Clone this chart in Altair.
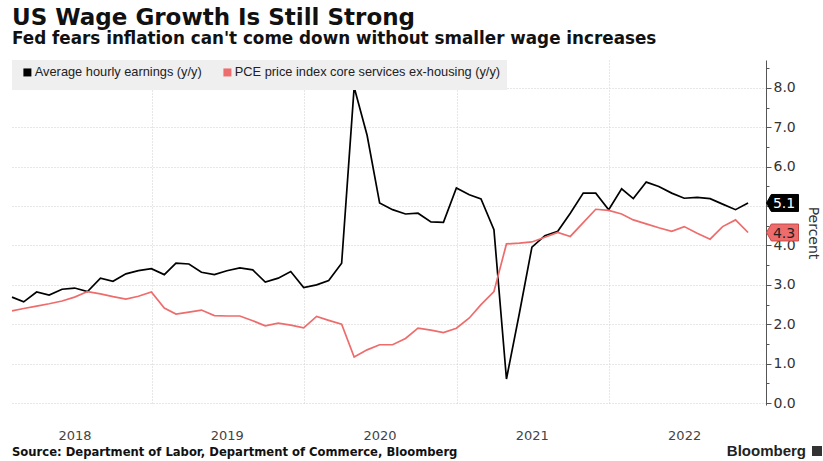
import altair as alt
import pandas as pd

# ---------------- data ----------------
series_names = ["Average hourly earnings (y/y)",
                "PCE price index core services ex-housing (y/y)"]
series_colors = ["#000000", "#ee6c6c"]
box_strokes = ["#000000", "#c84848"]
box_text_colors = ["#ffffff", "#222222"]

ahe = [2.69, 2.57, 2.82, 2.74, 2.89, 2.92, 2.83, 3.17, 3.09, 3.28, 3.36, 3.41,
       3.26, 3.55, 3.53, 3.32, 3.26, 3.36, 3.43, 3.38, 3.07, 3.17, 3.34, 2.93,
       3.00, 3.11, 3.55, 8.02, 6.80, 5.08, 4.91, 4.80, 4.82, 4.60, 4.59, 5.46,
       5.29, 5.18, 4.40, 0.61, 2.28, 3.96, 4.25, 4.36, 4.82, 5.33, 5.33, 4.91,
       5.44, 5.19, 5.61, 5.50, 5.33, 5.20, 5.22, 5.19, 5.05, 4.91, 5.08]
pce = [2.34, 2.40, 2.46, 2.52, 2.59, 2.69, 2.83, 2.77, 2.70, 2.64, 2.71, 2.82,
       2.41, 2.26, 2.31, 2.36, 2.22, 2.21, 2.21, 2.09, 1.96, 2.03, 1.98, 1.91,
       2.20, 2.10, 2.00, 1.17, 1.35, 1.48, 1.48, 1.64, 1.90, 1.85, 1.79, 1.90,
       2.16, 2.50, 2.83, 4.04, 4.06, 4.09, 4.21, 4.33, 4.23, 4.58, 4.92, 4.89,
       4.80, 4.65, 4.55, 4.45, 4.36, 4.48, 4.31, 4.16, 4.48, 4.65, 4.33]

first_month = "2018-02-01"   # monthly data, plotted at month end (Jan 2018 .. Nov 2022)
year_labels = ["2018", "2019", "2020", "2021", "2022"]
grid_years = [2019, 2020, 2021, 2022]
y_ticks = [0, 0.5, 1, 1.5, 2, 2.5, 3, 3.5, 4, 4.5, 5, 5.5, 6, 6.5, 7, 7.5, 8, 8.5]

title_text = "US Wage Growth Is Still Strong"
subtitle_text = "Fed fears inflation can't come down without smaller wage increases"
source_text = "Source: Department of Labor, Department of Commerce, Bloomberg"
brand_text = "Bloomberg"
y_title = "Percent"

# ---------------- tables ----------------
dates = (pd.date_range(first_month, periods=len(ahe), freq="MS")
         - pd.Timedelta(days=1)).strftime("%Y-%m-%dT00:00:00").tolist()
df = pd.DataFrame({
    "date": dates + dates,
    "value": ahe + pce,
    "series": [series_names[0]] * len(ahe) + [series_names[1]] * len(pce),
})
last_df = pd.DataFrame({
    "series": series_names,
    "value": [ahe[-1], pce[-1]],
    "label": [f"{ahe[-1]:.1f}", f"{pce[-1]:.1f}"],
    "tcolor": box_text_colors,
})
years_df = pd.DataFrame({
    "date": [f"{y}-07-01T00:00:00" for y in year_labels],
    "label": year_labels,
})

W, H = 754, 345
FONT = "DejaVu Sans"

xscale = alt.Scale(domain=["2018-01-31T00:00:00", "2023-01-12T00:00:00"])
yscale = alt.Scale(domain=[-0.05, 8.71], nice=False, zero=False)

x_axis = alt.Axis(values=[alt.DateTime(year=y, month=1, date=1) for y in grid_years],
                  labels=False, ticks=False, domain=False, title=None,
                  grid=True, gridColor="#cfcfcf", gridDash=[1, 2], gridWidth=1)
y_axis = alt.Axis(orient="right", values=y_ticks,
                  labelExpr="(datum.value % 1 === 0 && datum.value !== 5) ? format(datum.value, '.1f') : ''",
                  labelFont=FONT, labelFontSize=14, labelColor="#333333", labelPadding=2,
                  domain=True, domainColor="#555555", domainWidth=1,
                  tickColor="#555555", tickWidth=1,
                  tickSize={"condition": {"test": "datum.value % 1 === 0", "value": 5}, "value": 3},
                  grid=True, gridColor="#cfcfcf", gridDash=[1, 2], gridWidth=1,
                  gridOpacity={"condition": {"test": "datum.value % 1 === 0", "value": 1}, "value": 0},
                  title=y_title, titleFont=FONT, titleFontSize=14, titleFontWeight="normal",
                  titleColor="#333333", titlePadding=10)

X = alt.X("date:T", scale=xscale, axis=x_axis)
Y = alt.Y("value:Q", scale=yscale, axis=y_axis)

lines = alt.Chart(df).mark_line(strokeWidth=1.7).encode(
    x=X, y=Y,
    color=alt.Color("series:N", title=None,
                    scale=alt.Scale(domain=series_names, range=series_colors),
                    legend=alt.Legend(orient="top-left", direction="horizontal", offset=0,
                                      padding=6, fillColor="#efefef",
                                      symbolType="square", symbolSize=9, symbolStrokeWidth=5,
                                      symbolOffset=3, labelOffset=1, labelLimit=0,
                                      labelFont="Liberation Sans",
                                      labelFontSize=12.8, labelColor="#222222",
                                      columnPadding=13)),
)

box_shape = "M-1,0L-0.7,-0.53L1,-0.53L1,0.53L-0.7,0.53Z"
boxes = alt.Chart(last_df).mark_point(shape=box_shape, size=1024, filled=True,
                                      opacity=1, strokeWidth=1).encode(
    x=alt.value(W + 16.5), y=Y,
    fill=alt.Fill("series:N", scale=alt.Scale(domain=series_names, range=series_colors), legend=None),
    stroke=alt.Stroke("series:N", scale=alt.Scale(domain=series_names, range=box_strokes), legend=None),
)
box_text = alt.Chart(last_df).mark_text(font=FONT, fontSize=14, align="center",
                                        baseline="middle", dy=1).encode(
    x=alt.value(W + 18), y=Y, text="label:N",
    color=alt.Color("tcolor:N", scale=None),
)

year_text = alt.Chart(years_df).mark_text(font=FONT, fontSize=13, color="#444444",
                                          align="center", baseline="middle").encode(
    x=X, y=alt.value(H + 31), text="label:N")

title = alt.Chart(pd.DataFrame({"t": [title_text]})).mark_text(
    font=FONT, fontSize=23, fontWeight="bold", color="#111111",
    align="left", baseline="alphabetic").encode(x=alt.value(0), y=alt.value(-35), text="t:N")
subtitle = alt.Chart(pd.DataFrame({"t": [subtitle_text]})).mark_text(
    font=FONT, fontSize=16.8, fontWeight="bold", color="#111111",
    align="left", baseline="alphabetic").encode(x=alt.value(0), y=alt.value(-16), text="t:N")
source = alt.Chart(pd.DataFrame({"t": [source_text]})).mark_text(
    font=FONT, fontSize=11.6, fontWeight="bold", color="#111111",
    align="left", baseline="alphabetic").encode(x=alt.value(0), y=alt.value(H + 51), text="t:N")
brand = alt.Chart(pd.DataFrame({"t": [brand_text]})).mark_text(
    font="Liberation Sans", fontSize=15, fontWeight="bold", color="#222222",
    align="right", baseline="alphabetic").encode(x=alt.value(W + 40), y=alt.value(H + 51), text="t:N")
icon = alt.Chart(pd.DataFrame({"t": [brand_text]})).mark_square(
    size=100, color="#333333", opacity=1).encode(x=alt.value(W + 51), y=alt.value(H + 46))

chart = alt.layer(lines, boxes, box_text, year_text, title, subtitle, source, brand, icon).properties(
    width=W, height=H,
    padding={"left": 12, "top": 60, "right": 57, "bottom": 56},
    autosize=alt.AutoSizeParams(type="none"),
    background="white",
).configure_view(stroke=None)

chart.save("out.html", embed_options={"renderer": "svg", "actions": False})
